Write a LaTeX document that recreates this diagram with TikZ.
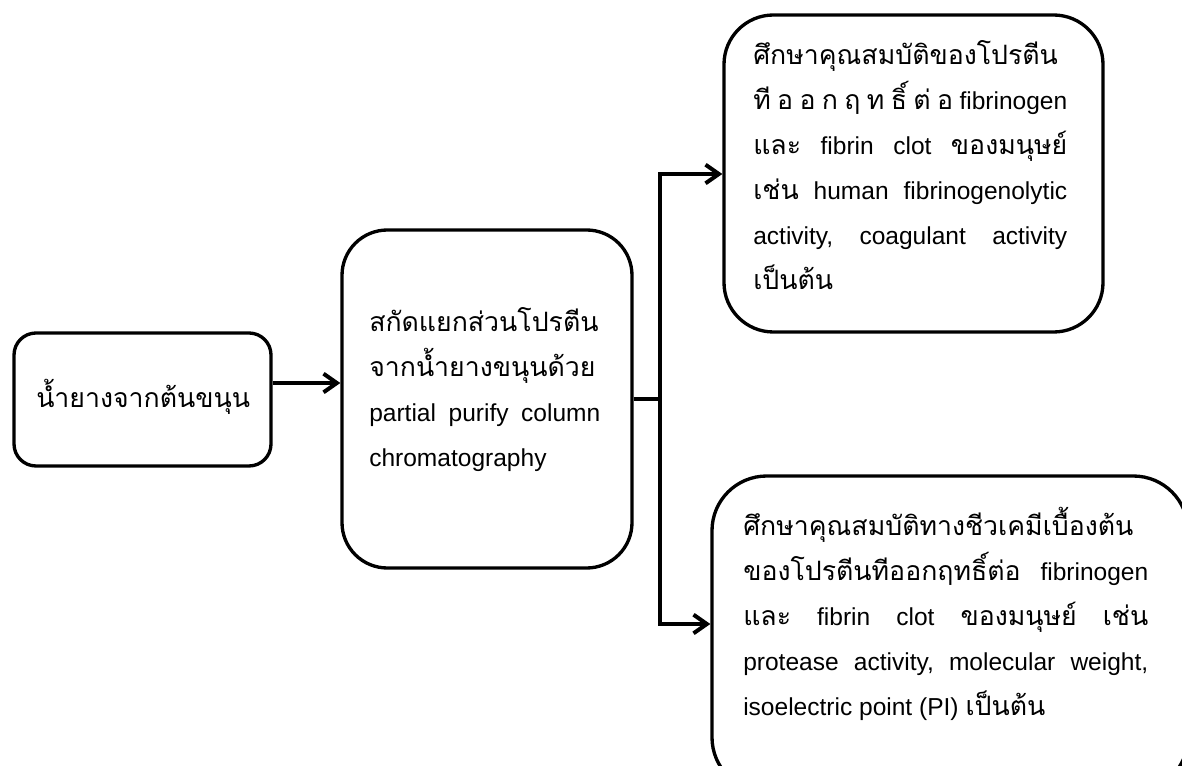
\documentclass[tikz,border=0pt]{standalone}
\usepackage{fontspec}
\setmainfont{Liberation Sans}
\newfontfamily\thf[Script=Thai]{Loma}
\usetikzlibrary{arrows.meta}
\newcommand\T[1]{{\thf\fontsize{20pt}{24pt}\selectfont #1}}
\newcommand\jl[1]{\hbox to \hsize{#1}}
\newcommand\nl[1]{\hbox{#1}}
\newcommand\blk[2]{\vtop{\hsize=#1\parindent=0pt\fontsize{18.4pt}{33.75pt}\selectfont\baselineskip=33.75pt\lineskiplimit=-100pt\lineskip=0pt #2}}
\tikzset{
  box/.style={draw, line width=2.5pt, inner sep=0pt},
  txt/.style={anchor=base west, inner sep=0pt},
  conn/.style={line width=3pt, line join=miter},
  arr/.style={-{Straight Barb[length=10pt,width=14pt,line width=3pt]}}
}
\begin{document}
\begin{tikzpicture}[x=0.75pt,y=-0.75pt]
\useasboundingbox (0,0) rectangle (1182,766);
\clip (0,0) rectangle (1182,766);
\fill[white] (0,0) rectangle (1182,766);
% boxes
\node[box, rounded corners=16.5pt, minimum width=192.75pt, minimum height=99.75pt] (A) at (142.5,399.5) {};
\node[box, rounded corners=34pt, minimum width=217.5pt, minimum height=253.5pt] (B) at (487,399) {};
\node[box, rounded corners=37pt, minimum width=284.25pt, minimum height=237.75pt] (C) at (913.5,173.5) {};
\node[box, rounded corners=41pt, minimum width=357pt, minimum height=237pt] (D) at (950,634) {};
% texts
\node[txt] (tA) at (36,408) {\T{น้ำยางจากต้นขนุน}};
\node[txt] (tB) at (369,332) {\blk{173.25pt}{%
\nl{\T{สกัดแยกส่วนโปรตีน}}
\nl{\T{จากน้ำยางขนุนด้วย}}
\jl{partial\hfill purify\hfill column}
\nl{chromatography}}};
\node[txt] (tC) at (753,65) {\blk{235.5pt}{%
\nl{\T{ศึกษาคุณสมบัติของโปรตีน}}
\jl{{\thf\fontsize{20pt}{24pt}\selectfont ที\hfill อ\hfill อ\hfill ก\hfill ฤ\hfill ท\hfill ธิ์\hfill ต่\hfill อ}\hfill fibrinogen}
\jl{\T{และ}\hfill fibrin\hfill clot\hfill \T{ของมนุษย์}}
\jl{\T{เช่น}\hfill human\hfill fibrinogenolytic}
\jl{activity,\hfill coagulant\hfill activity}
\nl{\T{เป็นต้น}}}};
\node[txt] (tD) at (743,535) {\blk{303.75pt}{%
\nl{\T{ศึกษาคุณสมบัติทางชีวเคมีเบื้องต้น}}
\jl{\T{ของโปรตีนทีออกฤทธิ์ต่อ}\hfill fibrinogen}
\jl{\T{และ}\hfill fibrin\hfill clot\hfill \T{ของมนุษย์}\hfill \T{เช่น}}
\jl{protease\hfill activity,\hfill molecular\hfill weight,}
\nl{isoelectric point (PI) \T{เป็นต้น}}}};
% connectors
\coordinate (jm) at (660,399);
\coordinate (jt) at (660,174);
\coordinate (jb) at (660,624);
\draw[conn, arr] (A.east |- 0,383) -- (B.west |- 0,383);
\draw[conn] (B.east |- jm) -- (jm);
\draw[conn, arr] (jm) -- (jt) -- (C.west |- jt);
\draw[conn, arr] (jm) -- (jb) -- (D.west |- jb);
\end{tikzpicture}
\end{document}
